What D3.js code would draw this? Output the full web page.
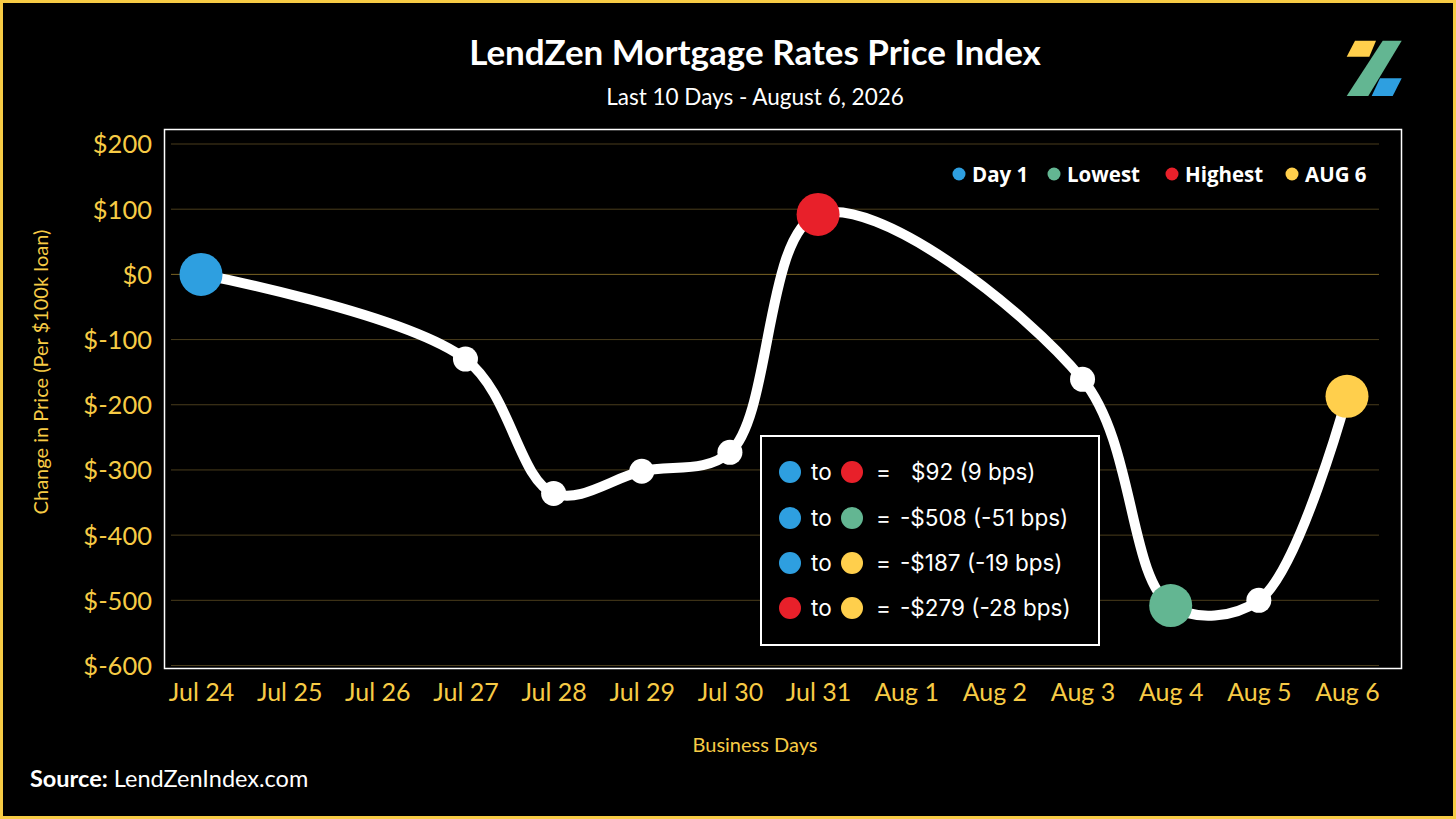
<!DOCTYPE html>
<html><head><meta charset="utf-8">
<script src="https://cdn.jsdelivr.net/npm/d3@7/dist/d3.min.js"></script>
<style>
html,body{margin:0;padding:0;background:#000;}
svg{display:block;}
</style></head>
<body>
<svg id="chart" width="1456" height="819"></svg>
<script>
// ---- data ----
const categories = ["Jul 24","Jul 25","Jul 26","Jul 27","Jul 28","Jul 29","Jul 30","Jul 31","Aug 1","Aug 2","Aug 3","Aug 4","Aug 5","Aug 6"];
const pointDays = ["Jul 24","Jul 27","Jul 28","Jul 29","Jul 30","Jul 31","Aug 3","Aug 4","Aug 5","Aug 6"];
const pointValues = [0,-130,-336,-302,-273,92,-161,-508,-500,-187];
const yTicks = [200,100,0,-100,-200,-300,-400,-500,-600];
const highlightDays = ["Jul 24","Aug 4","Jul 31","Aug 6"];
const highlightNames = ["Day 1","Lowest","Highest","AUG 6"];
const highlightColors = ["#2E9FE0","#63B692","#E8202A","#FFCF4C"];
const boxFrom = [0,0,0,2];
const boxTo = [2,1,3,3];
const boxText = ["$92 (9 bps)","-$508 (-51 bps)","-$187 (-19 bps)","-$279 (-28 bps)"];

const gold = "#F7CB45";
const svg = d3.select("#chart");
svg.append("rect").attr("x",1.5).attr("y",1.5).attr("width",1453).attr("height",816)
  .attr("fill","#000").attr("stroke",gold).attr("stroke-width",3);

const x = d3.scalePoint().domain(categories).range([201,1347]);
const y = d3.scaleLinear().domain([-600,200]).range([665.5,144]);

// title
svg.append("text").attr("x",755).attr("y",65).attr("text-anchor","middle")
  .attr("font-family","Lato").attr("font-weight",700).attr("font-size",35).attr("fill","#fff")
  .text("LendZen Mortgage Rates Price Index");
svg.append("text").attr("x",755).attr("y",105).attr("text-anchor","middle")
  .attr("font-family","Lato").attr("font-size",22.5).attr("fill","#fff")
  .text("Last 10 Days - August 6, 2026");

// logo
const logo = svg.append("g");
logo.append("polygon").attr("points","1355,40.7 1376,40.7 1369.3,56.7 1346.7,56.7").attr("fill","#FFCF4C");
logo.append("polygon").attr("points","1382.7,40.7 1401.7,40.7 1368.3,96 1346.7,96").attr("fill","#63B692");
logo.append("polygon").attr("points","1380,78.3 1401.7,78.3 1392.7,96 1371.7,96").attr("fill","#2E9FE0");

// plot frame
svg.append("rect").attr("x",164.5).attr("y",129.5).attr("width",1237).attr("height",539)
  .attr("fill","none").attr("stroke","#fff").attr("stroke-width",1.5);

// gridlines
svg.append("g").selectAll("line").data(yTicks).join("line")
  .attr("x1",171).attr("x2",1379).attr("y1",d=>y(d)).attr("y2",d=>y(d))
  .attr("stroke",d=>d===0?"#7a6424":"#4a3d1c").attr("stroke-width",1);

// y axis
const yAxis = d3.axisLeft(y).tickValues(yTicks).tickSize(0).tickPadding(0)
  .tickFormat(d=>"$"+d);
const yg = svg.append("g").attr("transform","translate(152,0)").call(yAxis);
yg.select(".domain").remove();
yg.selectAll("text").attr("font-family","Lato").attr("font-size",25.5).attr("fill",gold).attr("dy","0.35em");

// x axis
const xAxis = d3.axisBottom(x).tickSize(0).tickPadding(0);
const xg = svg.append("g").attr("transform","translate(0,683)").call(xAxis);
xg.select(".domain").remove();
xg.selectAll("text").attr("font-family","Lato").attr("font-size",25).attr("fill",gold).attr("dy","0.71em");

// axis titles
svg.append("text").attr("x",755).attr("y",752).attr("text-anchor","middle")
  .attr("font-family","Lato").attr("font-size",20).attr("fill",gold).text("Business Days");
svg.append("text").attr("transform","translate(48,372) rotate(-90)").attr("text-anchor","middle")
  .attr("font-family","Lato").attr("font-size",20).attr("fill",gold).text("Change in Price (Per $100k loan)");

// line
const pts = pointDays.map((d,i)=>({day:d,value:pointValues[i]}));
const line = d3.line().x(d=>x(d.day)).y(d=>y(d.value)).curve(d3.curveCatmullRom.alpha(0.5));
svg.append("path").datum(pts).attr("d",line).attr("fill","none")
  .attr("stroke","#fff").attr("stroke-width",10).attr("stroke-linecap","round");

// markers
svg.append("g").selectAll("circle").data(pts.filter(p=>!highlightDays.includes(p.day))).join("circle")
  .attr("cx",d=>x(d.day)).attr("cy",d=>y(d.value)).attr("r",12.5).attr("fill","#fff");
svg.append("g").selectAll("circle").data(highlightDays).join("circle")
  .attr("cx",d=>x(d)).attr("cy",d=>y(pts.find(p=>p.day===d).value)).attr("r",21.5)
  .attr("fill",(d,i)=>highlightColors[i]);

// legend
const legX = [959,1054,1172,1292];
const lg = svg.append("g");
highlightNames.forEach((n,i)=>{
  lg.append("circle").attr("cx",legX[i]).attr("cy",174).attr("r",6.5).attr("fill",highlightColors[i]);
  lg.append("text").attr("x",legX[i]+13).attr("y",181.5).attr("font-family","Open Sans")
    .attr("font-weight",700).attr("font-size",20.5).attr("fill","#fff").text(n);
});

// annotation box
svg.append("rect").attr("x",761).attr("y",436).attr("width",338).attr("height",209)
  .attr("fill","#000").attr("stroke","#fff").attr("stroke-width",2);
const rowY = [472,518,563,608];
boxText.forEach((t,i)=>{
  svg.append("circle").attr("cx",790).attr("cy",rowY[i]).attr("r",11).attr("fill",highlightColors[boxFrom[i]]);
  svg.append("text").attr("x",811).attr("y",rowY[i]+8).attr("font-family","Inter").attr("font-size",22.5)
    .attr("fill","#fff").text("to");
  svg.append("circle").attr("cx",852).attr("cy",rowY[i]).attr("r",11).attr("fill",highlightColors[boxTo[i]]);
  svg.append("text").attr("x",876).attr("y",rowY[i]+8).attr("font-family","Inter").attr("font-size",22.5)
    .attr("fill","#fff").text("=");
  svg.append("text").attr("x",i===0?911:900).attr("y",rowY[i]+8).attr("font-family","Inter").attr("font-size",22.5)
    .attr("fill","#fff").text(t);
});

// source
const src = svg.append("text").attr("x",30).attr("y",787).attr("font-family","Lato").attr("font-size",23.5).attr("fill","#fff");
src.append("tspan").attr("font-weight",700).text("Source:");
src.append("tspan").text(" LendZenIndex.com");
</script>
</body></html>
